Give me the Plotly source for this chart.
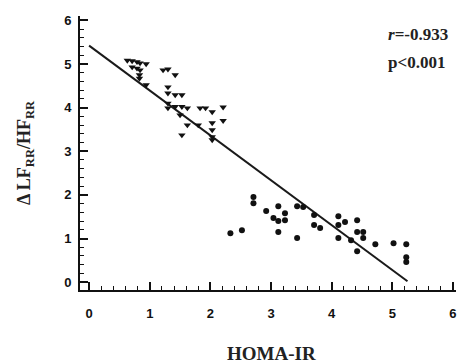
import plotly.graph_objects as go

# Group 1 (triangles, upper-left)
tri_x = [0.63, 0.71, 0.79, 0.84, 0.94, 0.71, 0.79, 0.84, 0.83, 0.83, 0.94,
         1.22, 1.30, 1.42, 1.30, 1.30, 1.42, 1.53, 1.30, 1.30, 1.42, 1.53, 1.62,
         1.50, 1.62, 1.53, 1.83, 1.92, 2.03, 2.21, 2.21, 1.80, 2.03, 2.03, 2.03, 2.03]
tri_y = [5.08, 5.07, 5.05, 5.02, 5.00, 4.93, 4.90, 4.86, 4.75, 4.67, 4.52,
         4.86, 4.88, 4.75, 4.47, 4.33, 4.29, 4.29, 4.10, 3.99, 4.02, 4.02, 3.99,
         3.83, 3.60, 3.37, 3.99, 3.99, 3.90, 4.01, 3.70, 3.60, 3.65, 3.49, 3.33, 3.26]

# Group 2 (circles, lower-right)
cir_x = [2.33, 2.52, 2.71, 2.71, 2.92, 3.04, 3.12, 3.12, 3.12, 3.23, 3.23,
         3.43, 3.53, 3.43, 3.71, 3.71, 3.81, 4.11, 4.11, 4.22, 4.11, 4.32,
         4.42, 4.42, 4.52, 4.52, 4.42, 4.72, 5.02, 5.23, 5.23, 5.23]
cir_y = [1.12, 1.19, 1.95, 1.81, 1.63, 1.47, 1.74, 1.40, 1.15, 1.58, 1.42,
         1.74, 1.72, 1.01, 1.54, 1.31, 1.24, 1.51, 1.31, 1.38, 1.01, 0.96,
         1.42, 1.15, 1.15, 1.01, 0.71, 0.87, 0.89, 0.87, 0.57, 0.46]

# Regression line endpoints
fit_x = [0.0, 5.25]
fit_y = [5.42, 0.02]

x_ticks = [0, 1, 2, 3, 4, 5, 6]
y_ticks = [0, 1, 2, 3, 4, 5, 6]

fig = go.Figure()
fig.add_trace(go.Scatter(x=fit_x, y=fit_y, mode="lines",
                         line=dict(color="#1a1a1a", width=2), showlegend=False))
fig.add_trace(go.Scatter(x=tri_x, y=tri_y, mode="markers",
                         marker=dict(symbol="triangle-down", size=6.5, color="#111"),
                         showlegend=False))
fig.add_trace(go.Scatter(x=cir_x, y=cir_y, mode="markers",
                         marker=dict(symbol="circle", size=6, color="#111"),
                         showlegend=False))

tickfont = dict(family="Liberation Sans Narrow, Liberation Sans, Arial", size=13,
                color="#111", weight="bold")
axis_common = dict(showline=True, linecolor="#111", linewidth=2, ticks="inside",
                   tickcolor="#111", tickwidth=1.5, ticklen=8, showgrid=False,
                   zeroline=False, tickfont=tickfont, tickmode="array",
                   automargin=False, ticklabeloverflow="allow")
minor = dict(tickmode="linear", dtick=0.2, tick0=0, ticks="inside", ticklen=4,
             tickcolor="#111", tickwidth=1.2, showgrid=False)

fig.update_xaxes(range=[-0.15, 6.05], tickvals=x_ticks, ticktext=[str(v) for v in x_ticks],
                 ticklabelstandoff=10, minor=minor, **axis_common)
fig.update_yaxes(range=[-0.18, 6.1], tickvals=y_ticks, ticktext=[str(v) for v in y_ticks],
                 ticklabelstandoff=4, minor=minor, **axis_common)

serif = "Liberation Serif, Times New Roman, serif"
fig.add_annotation(text="<b>HOMA-IR</b>", xref="paper", yref="paper", x=0.51, y=0,
                   yshift=-63, showarrow=False, yanchor="middle",
                   font=dict(family=serif, size=19, color="#222"))
fig.add_annotation(text="<b>Δ LF<sub>RR</sub>/HF<sub>RR</sub></b>", xref="paper", yref="paper",
                   x=0, y=0.50, xshift=-55, showarrow=False, textangle=-90,
                   xanchor="center", yanchor="middle",
                   font=dict(family=serif, size=18, color="#222"))
fig.add_annotation(text="<b><i>r</i>=-0.933</b>", xref="paper", yref="paper",
                   x=0.815, y=(274 - 19) / 274, showarrow=False, xanchor="left",
                   yanchor="middle", font=dict(family=serif, size=17, color="#222"))
fig.add_annotation(text="<b>p&lt;0.001</b>", xref="paper", yref="paper",
                   x=0.815, y=(274 - 46) / 274, showarrow=False, xanchor="left",
                   yanchor="middle", font=dict(family=serif, size=17, color="#222"))

fig.update_layout(width=458, height=364, margin=dict(l=80, r=2, t=16, b=74),
                  plot_bgcolor="white", paper_bgcolor="white")

# remove the default page margin so the 458x364 figure fills the window exactly
fig.write_html("out.html",
               config={"displayModeBar": False},
               post_script="document.body.style.margin='0';"
                           "document.body.style.overflow='hidden';")
